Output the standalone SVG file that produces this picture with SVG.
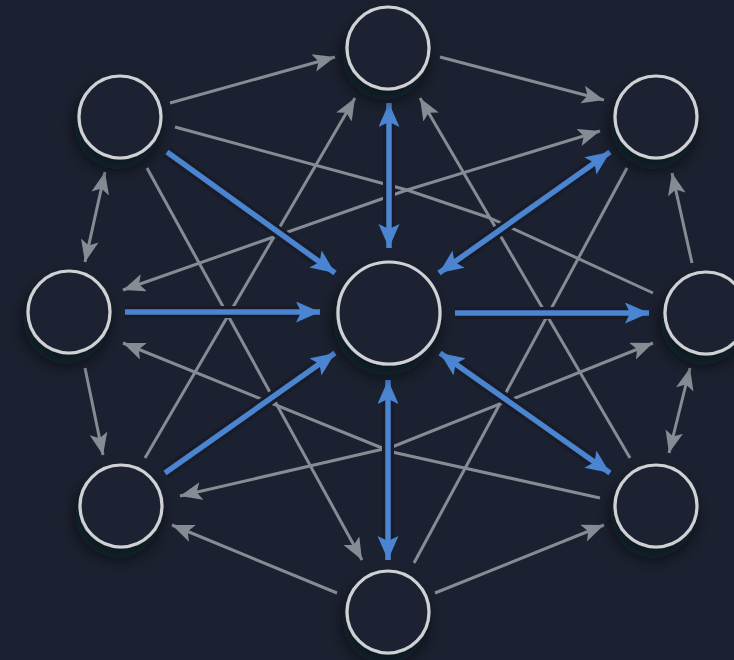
<svg xmlns="http://www.w3.org/2000/svg" width="734" height="660" viewBox="0 0 734 660">
  <defs>
    <style>
      .g { fill: none; stroke: #878c94; stroke-width: 3; stroke-linejoin: round; }
      .halo { fill: none; stroke: #171c28; stroke-width: 12; }
      .b { fill: none; stroke: #4b85d2; stroke-width: 5.5; }
      .node { fill: #1d2332; stroke: #cfd1d4; stroke-width: 3.2; }
    </style>
    <marker id="ga" markerUnits="userSpaceOnUse" markerWidth="24" markerHeight="20" refX="22" refY="9" orient="auto-start-reverse">
      <path d="M0,0 L22,9 L0,18 L5,9 z" fill="#878c94"/>
    </marker>
    <marker id="ba" markerUnits="userSpaceOnUse" markerWidth="26" markerHeight="22" refX="24" refY="10.5" orient="auto-start-reverse">
      <path d="M0,0 L24,10.5 L0,21 L5,10.5 z" fill="#4b85d2"/>
    </marker>
    <filter id="sh" x="-60%" y="-60%" width="220%" height="240%">
      <feDropShadow dx="-3" dy="10" stdDeviation="8" flood-color="#05070c" flood-opacity="0.65"/>
    </filter>
  </defs>
  <rect width="734" height="660" fill="#1b2130"/>

  <g id="connectors">
    <!-- gray connectors -->
    <path class="g" d="M170,103 L335,57" marker-end="url(#ga)"/>
    <path class="g" d="M440,57 L604,100" marker-end="url(#ga)"/>
    <path class="g" d="M105,172 L85,262" marker-start="url(#ga)" marker-end="url(#ga)"/>
    <path class="g" d="M85,368 L103,455" marker-end="url(#ga)"/>
    <path class="g" d="M337,593 L172,525" marker-end="url(#ga)"/>
    <path class="g" d="M435,593 L604,525" marker-end="url(#ga)"/>
    <path class="g" d="M669,453 L690,368" marker-start="url(#ga)" marker-end="url(#ga)"/>
    <path class="g" d="M692,263 L672,173" marker-end="url(#ga)"/>
    <path class="g" d="M175,127 L407,190 L490,218 L653,293"/>
    <path class="g" d="M123,290 L407,190 L600,131" marker-start="url(#ga)" marker-end="url(#ga)"/>
    <path class="g" d="M145,458 L355,98" marker-end="url(#ga)"/>
    <path class="g" d="M147,168 L362,560" marker-end="url(#ga)"/>
    <path class="g" d="M630,458 L420,98" marker-end="url(#ga)"/>
    <path class="g" d="M627,168 L414,563"/>
    <path class="g" d="M123,343 L392,452 L600,498" marker-start="url(#ga)"/>
    <path class="g" d="M180,496 L392,447 L653,343" marker-start="url(#ga)" marker-end="url(#ga)"/>

    <!-- halos under blue connectors -->
    <path class="halo" d="M167,152 L322,264"/>
    <path class="halo" d="M125,312 L305,312"/>
    <path class="halo" d="M165,473 L322,362"/>
    <path class="halo" d="M389,115 L389,236"/>
    <path class="halo" d="M598,160 L451,265"/>
    <path class="halo" d="M455,313 L635,313"/>
    <path class="halo" d="M452,361 L598,465"/>
    <path class="halo" d="M388,392 L388,548"/>

    <!-- blue connectors -->
    <path class="b" d="M167,152 L335,273" marker-end="url(#ba)"/>
    <path class="b" d="M125,312 L320,312" marker-end="url(#ba)"/>
    <path class="b" d="M165,473 L335,353" marker-end="url(#ba)"/>
    <path class="b" d="M389,103 L389,248" marker-start="url(#ba)" marker-end="url(#ba)"/>
    <path class="b" d="M610,152 L439,273" marker-start="url(#ba)" marker-end="url(#ba)"/>
    <path class="b" d="M455,313 L649,313" marker-end="url(#ba)"/>
    <path class="b" d="M440,353 L610,473" marker-start="url(#ba)" marker-end="url(#ba)"/>
    <path class="b" d="M388,380 L388,560" marker-start="url(#ba)" marker-end="url(#ba)"/>
  </g>

  <g id="node-top"><circle class="node" cx="388" cy="48" r="41" filter="url(#sh)"/></g>
  <g id="node-top-left"><circle class="node" cx="120" cy="117" r="41" filter="url(#sh)"/></g>
  <g id="node-top-right"><circle class="node" cx="656" cy="117" r="41" filter="url(#sh)"/></g>
  <g id="node-left"><circle class="node" cx="69" cy="312" r="41" filter="url(#sh)"/></g>
  <g id="node-right"><circle class="node" cx="706" cy="313" r="41" filter="url(#sh)"/></g>
  <g id="node-bottom-left"><circle class="node" cx="121" cy="506" r="41" filter="url(#sh)"/></g>
  <g id="node-bottom-right"><circle class="node" cx="656" cy="506" r="41" filter="url(#sh)"/></g>
  <g id="node-bottom"><circle class="node" cx="388" cy="612" r="41" filter="url(#sh)"/></g>
  <g id="node-center"><circle class="node" cx="389" cy="313" r="51" filter="url(#sh)"/></g>
</svg>
